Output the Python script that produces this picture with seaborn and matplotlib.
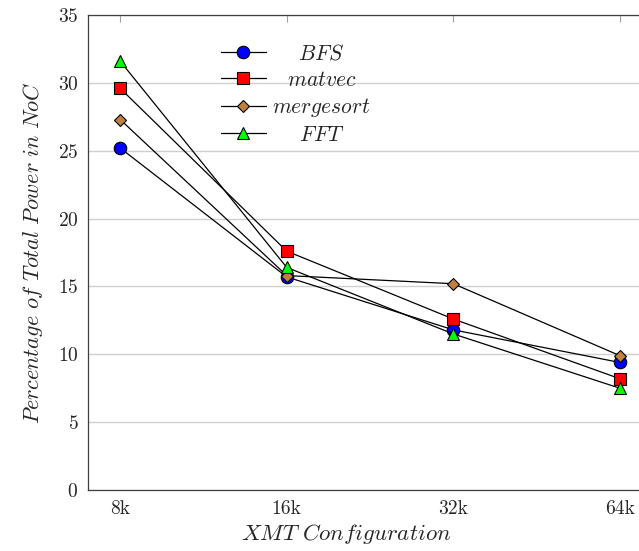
import numpy as np
import pandas as pd
import matplotlib
matplotlib.use("Agg")
import matplotlib.pyplot as plt
import seaborn as sns

# data
configs = ["8k", "16k", "32k", "64k"]
bfs = [25.2, 15.7, 11.8, 9.4]
matvec = [29.6, 17.6, 12.6, 8.2]
mergesort = [27.3, 15.8, 15.2, 9.9]
fft = [31.6, 16.4, 11.5, 7.5]

sns.set_style("white")
plt.rcParams["font.family"] = "serif"
plt.rcParams["font.serif"] = ["cmr10", "DejaVu Serif"]
plt.rcParams["mathtext.fontset"] = "cm"
plt.rcParams["axes.formatter.use_mathtext"] = True

# name, values, marker, face colour, size, left pad (in 'm' widths) so the
# legend text looks centred like the original
series = [
    ("BFS", bfs, "o", "#0000ff", 9, 1.4),
    ("matvec", matvec, "s", "#ff0000", 8.5, 0.8),
    ("mergesort", mergesort, "D", "#bf8040", 6, 0.0),
    ("FFT", fft, "^", "#00ff00", 8, 1.45),
]

fig = plt.figure(figsize=(6.39, 5.51), dpi=100)
ax = fig.add_axes([88 / 639, 61 / 551, 564 / 639, 475 / 551])

x = np.arange(len(configs))
for name, vals, mk, col, ms, pad in series:
    lab = r"$\hspace{%.2f}%s$" % (pad, name) if pad > 0 else r"$%s$" % name
    sns.lineplot(x=x, y=vals, ax=ax, color="black", linewidth=0.9,
                 marker=mk, markersize=ms, markerfacecolor=col,
                 markeredgecolor="black", markeredgewidth=0.8,
                 label=lab, zorder=3)

ax.set_xlim(-0.193, 3.193)
ax.set_ylim(0, 35)
ax.set_xticks(x)
ax.set_xticklabels(configs)
ax.set_yticks(np.arange(0, 36, 5))
ax.yaxis.grid(True, color="#d0d0d0", linewidth=1.0)
ax.set_axisbelow(True)
ax.tick_params(direction="in", length=5, color="#a0a0a0", labelsize=14,
               top=True, right=True, pad=7)
for sp in ax.spines.values():
    sp.set_color("#404040")
    sp.set_linewidth(0.9)

ax.set_xlabel(r"$XMT\ Configuration$", fontsize=16.5)
ax.xaxis.set_label_coords(0.457, -0.068)
ax.set_ylabel(r"$Percentage\ of\ Total\ Power\ in\ NoC$", fontsize=16, labelpad=9)

leg = ax.legend(loc="center", bbox_to_anchor=(0.368, 0.833), frameon=False,
                fontsize=15.5, handlelength=2.1, labelspacing=0.3,
                handletextpad=0.3)

fig.savefig("out.png", dpi=100)
